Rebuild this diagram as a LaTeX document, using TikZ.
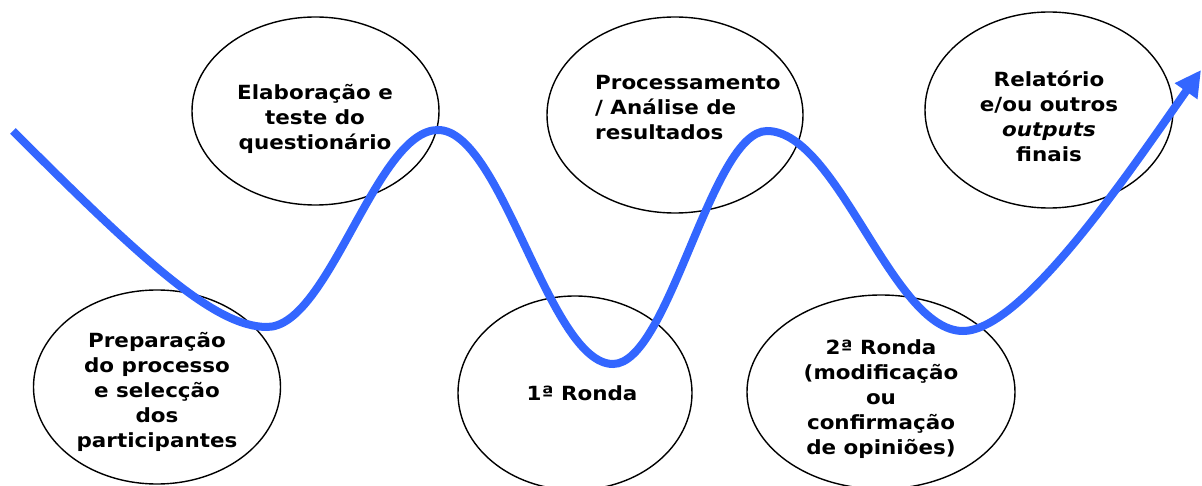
\documentclass[tikz,border=0pt]{standalone}
\usepackage{fontspec}
\setmainfont{DejaVu Sans}[FakeStretch=1.1]
\usetikzlibrary{arrows.meta,shapes.geometric}
\definecolor{wave}{HTML}{3366FF}
\begin{document}
\begin{tikzpicture}[x=1bp,y=-1bp,
  bubble/.style={draw=black,line width=1.4bp,ellipse,inner sep=0pt,fill=white},
  lbl/.style={font=\bfseries\fontsize{19.5bp}{25bp}\selectfont,align=center,inner sep=0pt,text=black},
  waveline/.style={draw=wave,line width=8bp,line cap=butt,-{Triangle[length=26bp,width=26bp]}}
]
\useasboundingbox (0,0) rectangle (1202,486);
% ellipses
\node[bubble,minimum width=247bp,minimum height=194bp] (e1) at (157,387) {};
\node[bubble,minimum width=247bp,minimum height=188bp] (e2) at (315.5,111) {};
\node[bubble,minimum width=234bp,minimum height=194bp] (e3) at (575,393) {};
\node[bubble,minimum width=256bp,minimum height=196bp] (e4) at (675,115) {};
\node[bubble,minimum width=268bp,minimum height=194bp] (e5) at (881,392) {};
\node[bubble,minimum width=248bp,minimum height=196bp] (e6) at (1049,110) {};
% texts
\node[lbl] (t1) at (157,392) {Preparação\\do processo\\e selecção\\dos\\participantes};
\node[lbl] (t2) at (315,119) {Elaboração e\\teste do\\questionário};
\node[lbl] (t3) at (582,393) {1ª Ronda};
\node[lbl,align=left,anchor=west] (t4) at (595,108) {Processamento\\/ Análise de\\resultados};
\node[lbl] (t5) at (881,399) {2ª Ronda\\(modificação\\ou\\confirmação\\de opiniões)};
\node[lbl] (t6) at (1049,116) {Relatório\\e/ou outros\\\textit{outputs}\\finais};
% wave
\coordinate (s0) at (13,131);
\coordinate (m1) at (267,327);
\coordinate (x1) at (438,130);
\coordinate (m2) at (613,364);
\coordinate (x2) at (767,131);
\coordinate (m3) at (963,331);
\coordinate (tip) at (1201,70);
\draw[waveline] (s0) .. controls (143,261) and (215,327) .. (m1)
  .. controls (329,327) and (376,130) .. (x1)
  .. controls (502,130) and (549,364) .. (m2)
  .. controls (669,364) and (711,131) .. (x2)
  .. controls (838,131) and (892,331) .. (m3)
  .. controls (1023,331) and (1132,168) .. (tip);
\end{tikzpicture}
\end{document}
